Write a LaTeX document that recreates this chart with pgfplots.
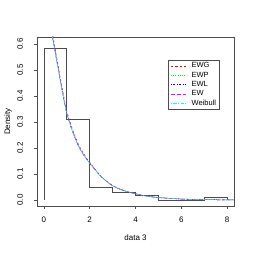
\documentclass[border=0pt]{standalone}
\usepackage{pgfplots}
\pgfplotsset{compat=1.18}
\usepackage{pgfplotstable}
\usepackage{fontspec}
\setmainfont{Liberation Sans}
\definecolor{rred}{HTML}{FF0000}
\definecolor{rgreen}{HTML}{00FF00}
\definecolor{rblue}{HTML}{0000FF}
\definecolor{rmag}{HTML}{FF00FF}
\definecolor{rcyan}{HTML}{00FFFF}
\pgfplotstableread{
x    ewg     ewp     ewl     ew      wei
0.25 0.715   0.705   0.700   0.702   0.698
0.30 0.683   0.673   0.668   0.670   0.666
0.40 0.630   0.620   0.615   0.617   0.613
0.50 0.578   0.570   0.566   0.567   0.564
0.60 0.528   0.520   0.517   0.518   0.515
0.80 0.430   0.422   0.419   0.420   0.418
1.00 0.343   0.336   0.334   0.335   0.333
1.25 0.272   0.266   0.264   0.265   0.264
1.50 0.216   0.211   0.210   0.210   0.209
1.75 0.176   0.172   0.171   0.172   0.171
2.00 0.145   0.142   0.142   0.142   0.141
2.50 0.091   0.090   0.090   0.090   0.090
3.00 0.056   0.055   0.055   0.055   0.055
3.50 0.036   0.036   0.036   0.036   0.036
4.00 0.024   0.024   0.024   0.024   0.024
4.50 0.015   0.015   0.015   0.015   0.015
5.00 0.0095  0.0095  0.0095  0.0095  0.0095
6.00 0.0038  0.0038  0.0038  0.0038  0.0038
7.00 0.0016  0.0016  0.0016  0.0016  0.0016
8.00 0.0007  0.0007  0.0007  0.0007  0.0007
8.30 0.0005  0.0005  0.0005  0.0005  0.0005
}\dens
\begin{document}
\begin{tikzpicture}
\useasboundingbox (-37pt,-47pt) rectangle (216pt,206pt);
\begin{axis}[
  at={(0,0)}, anchor=south west,
  scale only axis, width=197pt, height=169pt,
  xmin=-0.3, xmax=8.3, ymin=-0.023, ymax=0.627,
  xtick={0,2,4,6,8}, ytick={0,0.1,0.2,0.3,0.4,0.5,0.6},
  yticklabel style={/pgf/number format/fixed, /pgf/number format/fixed zerofill, /pgf/number format/precision=1},
  /pgf/number format/assume math mode=true,
  tick pos=left, tick align=outside, major tick length=3pt,
  every tick/.style={black!70, line width=0.5pt},
  axis line style={black!70, line width=0.5pt},
  tick label style={font=\fontsize{8}{9.6}\selectfont},
  xticklabel style={anchor=center, yshift=-11pt},
  yticklabel style={anchor=center, rotate=90, yshift=14pt},
  xlabel={data 3}, ylabel={Density},
  label style={font=\fontsize{8}{9.6}\selectfont},
  xlabel style={at={(axis description cs:0.5,0)}, anchor=center, yshift=-32pt},
  ylabel style={at={(axis description cs:0,0.5)}, anchor=center, rotate=0, yshift=29pt},
  legend cell align=left,
  legend style={at={(0.667,0.864)}, anchor=north west, draw=black!70, line width=0.5pt,
    font=\fontsize{7.5}{8}\selectfont, inner xsep=2pt, inner ysep=1.5pt,
    row sep=0.6pt,
    nodes={inner sep=1pt}},
  legend image code/.code={\draw[#1] (2pt,0pt) -- (17pt,0pt);},
]
\addplot[const plot, black!70, line width=0.6pt, forget plot] coordinates {
 (0,0) (0,0.585) (1,0.31) (2,0.049) (3,0.031) (4,0.018) (5,0) (6,0) (7,0.01) (8,0.01) (8,0)};
\addplot[rred, line width=0.5pt, dash pattern=on 2.2pt off 2.2pt, smooth] table[x=x,y=ewg] {\dens};
\addlegendentry{\hspace{4.5pt}EWG}
\addplot[rgreen, line width=0.5pt, dash pattern=on 0.6pt off 1.6pt, smooth] table[x=x,y=ewp] {\dens};
\addlegendentry{\hspace{4.5pt}EWP}
\addplot[rblue, line width=0.5pt, dash pattern=on 0.6pt off 1.6pt on 2.2pt off 1.6pt, smooth] table[x=x,y=ewl] {\dens};
\addlegendentry{\hspace{4.5pt}EWL}
\addplot[rmag, line width=0.5pt, dash pattern=on 4pt off 1.8pt, smooth] table[x=x,y=ew] {\dens};
\addlegendentry{\hspace{4.5pt}EW}
\addplot[rcyan, line width=0.5pt, dash pattern=on 1.2pt off 1.2pt on 3.6pt off 1.2pt, smooth] table[x=x,y=wei] {\dens};
\addlegendentry{\hspace{4.5pt}Weibull}
\end{axis}
\end{tikzpicture}
\end{document}
